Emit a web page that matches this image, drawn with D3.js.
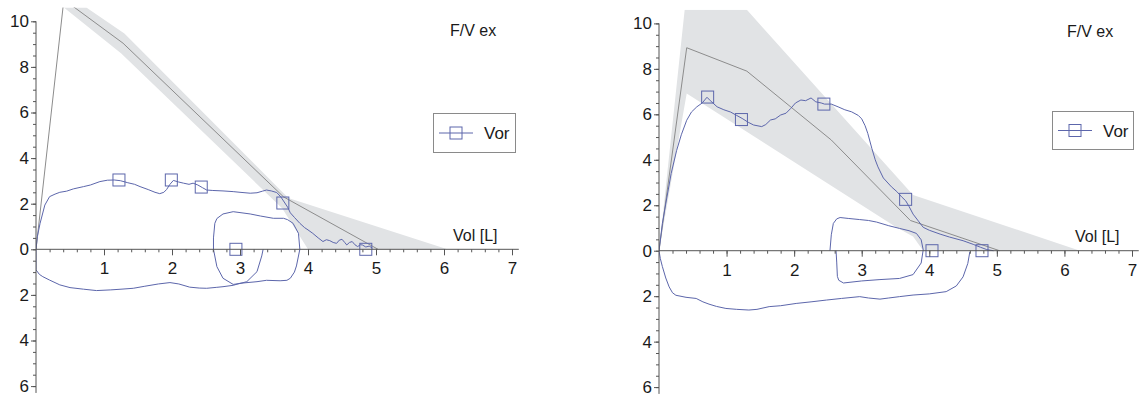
<!DOCTYPE html>
<html>
<head>
<meta charset="utf-8">
<script src="https://cdn.jsdelivr.net/npm/d3@7"></script>
<style>
  body { margin: 0; background: #fff; }
  svg { font-family: "Liberation Sans", Arial, sans-serif; }
</style>
</head>
<body>
<svg id="chart" width="1141" height="397"></svg>
<script>
// ---- data: [volume L, flow L/s]; inspiration is negative flow ----
const yTickValues = [-6, -4, -2, 0, 2, 4, 6, 8, 10];
const xTickValues = [1, 2, 3, 4, 5, 6, 7];
const titleText = 'F/V ex';
const xAxisTitle = 'Vol [L]';
const legendName = 'Vor';

// left panel
const leftPred = [[0, 0], [0.41, 10.95], [1.28, 9.04], [3.64, 2.3], [5.03, 0]];
const leftBand = [[0.41, 10.6], [0.74, 10.6], [1.3, 9.47], [3.71, 2.25], [6.05, 0],
                  [4.0, 0], [3.62, 1.8], [1.25, 8.6], [0.41, 10.6]];
const leftExp = [[0, 0], [0.02, 0.56], [0.06, 1.14], [0.13, 1.94], [0.2, 2.31], [0.28, 2.42], [0.35, 2.5],
  [0.45, 2.55], [0.55, 2.65], [0.7, 2.75], [0.8, 2.82], [0.94, 2.97], [1.05, 3.03], [1.15, 3.04],
  [1.24, 3.01], [1.35, 2.92], [1.45, 2.85], [1.53, 2.75], [1.65, 2.62], [1.75, 2.5], [1.82, 2.44],
  [1.88, 2.5], [1.92, 2.62], [1.97, 2.85], [2.02, 3.02], [2.1, 2.95], [2.17, 2.9], [2.25, 2.85],
  [2.31, 2.9], [2.38, 2.82], [2.45, 2.7], [2.51, 2.6], [2.6, 2.58], [2.75, 2.56], [2.9, 2.53],
  [3.0, 2.5], [3.15, 2.46], [3.25, 2.48], [3.33, 2.55], [3.39, 2.6], [3.46, 2.56], [3.54, 2.49],
  [3.6, 2.3], [3.64, 2.12], [3.7, 1.85], [3.74, 1.6], [3.8, 1.4], [3.88, 1.14], [3.95, 0.95],
  [4.0, 0.85], [4.07, 0.7], [4.15, 0.5], [4.22, 0.34], [4.27, 0.42], [4.32, 0.38], [4.37, 0.3],
  [4.42, 0.26], [4.46, 0.4], [4.5, 0.44], [4.54, 0.3], [4.57, 0.19], [4.61, 0.3], [4.65, 0.34],
  [4.69, 0.2], [4.73, 0.12], [4.77, 0.2], [4.8, 0.19], [4.85, 0.1], [4.9, 0.14], [4.95, 0.05]];
const leftInsp = [[0, 0], [0, -0.9], [0.05, -1.1], [0.1, -1.2], [0.2, -1.35], [0.35, -1.56], [0.5, -1.68],
  [0.7, -1.75], [0.89, -1.81], [1.1, -1.78], [1.25, -1.75], [1.43, -1.71], [1.6, -1.62], [1.8, -1.52],
  [1.97, -1.46], [2.1, -1.52], [2.26, -1.66], [2.4, -1.7], [2.51, -1.71], [2.65, -1.67], [2.75, -1.64],
  [2.9, -1.58], [3.0, -1.49], [3.25, -1.42], [3.39, -1.36], [3.59, -1.38], [3.69, -1.36], [3.74, -1.27],
  [3.8, -1.0], [3.83, -0.73], [3.88, 0], [3.86, 0.7], [3.78, 1.14], [3.7, 1.3], [3.64, 1.36],
  [3.49, 1.36], [3.3, 1.46], [3.15, 1.55], [2.9, 1.65], [2.75, 1.55], [2.66, 1.35], [2.63, 1.14],
  [2.61, 0.5], [2.61, 0], [2.66, -0.76], [2.75, -1.27], [2.9, -1.54], [3.0, -1.5], [3.1, -1.42],
  [3.25, -0.98], [3.32, -0.29], [3.34, 0]];
const leftVor = [[1.22, 3.04], [1.99, 3.04], [2.43, 2.73], [3.63, 2.03], [2.94, 0], [4.85, 0]];

// right panel
const rightPred = [[0, 0], [0.41, 8.93], [1.3, 7.9], [2.55, 4.87], [3.72, 1.33], [5.04, 0]];
const rightBand = [[0, 0], [0.38, 10.6], [1.3, 10.6], [3.76, 2.45], [6.23, 0],
                   [3.91, 0], [3.76, 0.62], [3.5, 1.05], [0.41, 6.92], [0, 0]];
const rightExp = [[0, 0], [0.05, 1.2], [0.11, 2.23], [0.18, 3.4], [0.26, 4.4], [0.33, 5.1], [0.41, 5.74],
  [0.48, 6.1], [0.56, 6.33], [0.64, 6.5], [0.71, 6.75], [0.76, 6.6], [0.86, 6.33], [0.96, 6.2],
  [1.06, 6.1], [1.15, 5.95], [1.23, 5.82], [1.32, 5.65], [1.4, 5.53], [1.52, 5.46], [1.58, 5.55],
  [1.65, 5.75], [1.72, 5.8], [1.8, 5.97], [1.88, 6.05], [1.95, 6.26], [2.02, 6.5], [2.1, 6.63],
  [2.17, 6.6], [2.25, 6.72], [2.32, 6.55], [2.4, 6.5], [2.45, 6.45], [2.55, 6.45], [2.65, 6.33],
  [2.75, 6.2], [2.85, 6.11], [2.95, 5.95], [3.0, 5.8], [3.05, 5.5], [3.09, 5.16], [3.15, 4.5],
  [3.2, 4.0], [3.24, 3.69], [3.32, 3.2], [3.44, 2.81], [3.52, 2.6], [3.59, 2.37], [3.65, 2.2],
  [3.7, 1.95], [3.76, 1.61], [3.84, 1.3], [3.91, 1.03], [4.0, 0.9], [4.16, 0.73], [4.3, 0.6],
  [4.5, 0.44], [4.65, 0.28], [4.76, 0.15], [4.85, 0.05], [4.95, 0]];
const rightInsp = [[0, 0], [0.02, -0.35], [0.05, -0.7], [0.1, -1.2], [0.15, -1.59], [0.2, -1.85],
  [0.25, -1.96], [0.4, -2.05], [0.55, -2.1], [0.65, -2.25], [0.74, -2.35], [0.85, -2.45], [0.99, -2.54],
  [1.15, -2.58], [1.33, -2.61], [1.45, -2.58], [1.63, -2.46], [1.8, -2.42], [2.03, -2.32], [2.25, -2.25],
  [2.48, -2.17], [2.7, -2.1], [2.97, -2.02], [3.1, -2.08], [3.27, -2.13], [3.4, -2.08], [3.56, -2.02],
  [3.76, -1.95], [4.0, -1.9], [4.25, -1.8], [4.4, -1.55], [4.5, -1.15], [4.57, -0.56], [4.6, -0.05]];
const rightLoop = [[2.53, 0], [2.55, 0.7], [2.58, 1.2], [2.63, 1.4], [2.68, 1.46], [2.8, 1.42], [2.97, 1.37],
  [3.1, 1.33], [3.22, 1.26], [3.4, 1.1], [3.56, 0.98], [3.7, 0.88], [3.81, 0.76], [3.88, 0.48],
  [3.91, 0.04], [3.88, -0.54], [3.76, -1.05], [3.56, -1.22], [3.27, -1.27], [3.0, -1.33], [2.73, -1.42],
  [2.66, -1.3], [2.64, -1.13], [2.63, -0.5], [2.62, 0]];
const rightVor = [[0.72, 6.76], [1.22, 5.77], [2.44, 6.45], [3.65, 2.26], [4.04, 0], [4.78, 0]];

// ---- drawing ----
const BLUE = '#5c66ab';
const svg = d3.select('#chart');

const panels = [
  { id: 'l', x: [36, 512], y: [386.1, 21.3], pred: leftPred, band: leftBand, curves: [leftExp, leftInsp],
    vor: leftVor, title: [450, 36], volLabel: [453, 241], legend: [433, 113, 82, 39] },
  { id: 'r', x: [659, 1132], y: [387.1, 23.4], pred: rightPred, band: rightBand, curves: [rightExp, rightInsp, rightLoop],
    vor: rightVor, title: [1067, 37], volLabel: [1075, 242], legend: [1052, 111, 81, 38] }
];

panels.forEach(p => {
  const x = d3.scaleLinear().domain([0, 7]).range(p.x);
  const y = d3.scaleLinear().domain([-6, 10]).range(p.y);
  const line = d3.line().x(d => x(d[0])).y(d => y(d[1]));

  svg.append('clipPath').attr('id', 'clip-' + p.id)
    .append('rect')
    .attr('x', x(0)).attr('y', y(10.6))
    .attr('width', x(7.1) - x(0)).attr('height', y(-6.3) - y(10.6));

  const plot = svg.append('g').attr('clip-path', 'url(#clip-' + p.id + ')');

  plot.append('path').datum(p.band)
    .attr('d', line)
    .attr('fill', '#e1e3e5').attr('stroke', 'none');

  plot.append('path').datum(p.pred)
    .attr('d', line)
    .attr('fill', 'none').attr('stroke', '#8c8c8c').attr('stroke-width', 1);

  // axes
  const yMinor = d3.axisLeft(y).tickValues(d3.range(-6, 10.01, 0.5)).tickSize(3).tickFormat('');
  const yMajor = d3.axisLeft(y).tickValues(yTickValues).tickSize(5).tickPadding(2)
    .tickFormat(d => Math.abs(d));
  const xMinor = d3.axisBottom(x).tickValues(d3.range(0.2, 7.01, 0.2)).tickSize(3).tickFormat('');
  const xMajor = d3.axisBottom(x).tickValues(xTickValues).tickSize(6).tickPadding(7)
    .tickFormat(d3.format('d'));

  [yMinor, yMajor].forEach(a => {
    svg.append('g').attr('transform', 'translate(' + x(0) + ',0)').call(a)
      .call(g => g.select('.domain').remove());
  });
  [xMinor, xMajor].forEach(a => {
    svg.append('g').attr('transform', 'translate(0,' + y(0) + ')').call(a)
      .call(g => g.select('.domain').remove());
  });
  svg.selectAll('.tick line').attr('stroke', '#555');
  svg.selectAll('.tick text').attr('fill', '#1a1a1a').style('font-size', '17px');

  svg.append('line')
    .attr('x1', x(0)).attr('x2', x(0)).attr('y1', y(10)).attr('y2', y(-6.3))
    .attr('stroke', '#555');
  svg.append('line')
    .attr('x1', x(0)).attr('x2', x(7.1)).attr('y1', y(0)).attr('y2', y(0))
    .attr('stroke', '#555');

  // measured curves
  p.curves.forEach(c => {
    plot.append('path').datum(c)
      .attr('d', line)
      .attr('fill', 'none').attr('stroke', BLUE).attr('stroke-width', 1);
  });

  plot.selectAll('rect.vor').data(p.vor).enter()
    .append('rect').attr('class', 'vor')
    .attr('x', d => x(d[0]) - 6).attr('y', d => y(d[1]) - 6)
    .attr('width', 12).attr('height', 12)
    .attr('fill', 'none').attr('stroke', BLUE).attr('stroke-width', 1);

  // texts
  svg.append('text').attr('x', p.title[0]).attr('y', p.title[1])
    .style('font-size', '16px').attr('fill', '#1a1a1a').text(titleText);
  svg.append('text').attr('x', p.volLabel[0]).attr('y', p.volLabel[1])
    .style('font-size', '16px').attr('fill', '#1a1a1a').text(xAxisTitle);

  // legend
  const [lx, ly, lw, lh] = p.legend;
  const lg = svg.append('g').attr('transform', 'translate(' + lx + ',' + ly + ')');
  lg.append('rect').attr('x', 0.5).attr('y', 0.5).attr('width', lw).attr('height', lh)
    .attr('fill', '#fff').attr('stroke', '#8a8a8a');
  lg.append('line').attr('x1', 6).attr('x2', 40).attr('y1', lh / 2 + 0.5).attr('y2', lh / 2 + 0.5)
    .attr('stroke', BLUE);
  lg.append('rect').attr('x', 17).attr('y', lh / 2 - 5.5).attr('width', 12).attr('height', 12)
    .attr('fill', 'none').attr('stroke', BLUE);
  lg.append('text').attr('x', 51).attr('y', lh / 2 + 6.5)
    .style('font-size', '17px').attr('fill', '#1a1a1a').text(legendName);
});
</script>
</body>
</html>
